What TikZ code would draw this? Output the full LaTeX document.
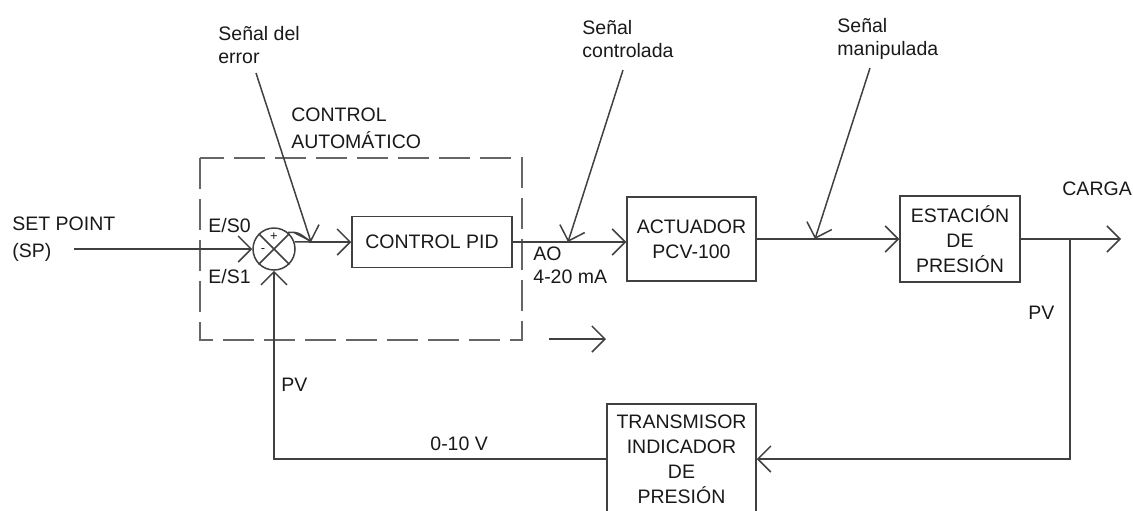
\documentclass[tikz,border=0pt]{standalone}
\usepackage{fontspec}
\setmainfont{Liberation Sans}
\usetikzlibrary{arrows.meta}
\begin{document}
\begin{tikzpicture}[x=0.5pt,y=-0.5pt,
  every node/.style={font=\fontsize{9.75}{12.5}\selectfont, text=black!90},
  box/.style={draw=black!75, line width=0.75pt, inner sep=0pt, align=center},
  ln/.style={draw=black!75, line width=0.75pt},
  arr/.style={ln, -{Straight Barb[length=6.5pt,width=13pt,line width=0.75pt]}},
  lbl/.style={anchor=west, align=left, inner sep=0pt},
  sig/.style={lbl, font=\fontsize{9.75}{11.5}\selectfont},
  dbox/.style={draw=black!60, line width=0.8pt, dash pattern=on 15.5pt off 5pt},
]
\useasboundingbox (0,0) rectangle (1133,510);
\begin{scope}
\clip (0,0) rectangle (1133,510);
% blocks
\node[box, minimum width=80pt, minimum height=25.5pt] (pid) at (432,242) {CONTROL PID};
\node[box, minimum width=64.5pt, minimum height=42pt] (act) at (691.5,239) {ACTUADOR\\PCV-100};
\node[box, minimum width=60pt, minimum height=43pt] (est) at (960,239) {ESTACIÓN\\DE\\PRESIÓN};
\node[box, minimum width=74.5pt, minimum height=55pt] (tra) at (681.5,459) {TRANSMISOR\\INDICADOR\\DE\\PRESIÓN};
% summing junction
\node[circle, draw=black!75, line width=0.75pt, minimum size=21pt, inner sep=0pt] (sum) at (274,249) {};
\draw[ln] (sum.45) -- (sum.225) (sum.135) -- (sum.-45);
\node[font=\fontsize{6.5}{7}\selectfont, inner sep=0pt] (plus) at (274,237) {+};
\node[font=\fontsize{6.5}{7}\selectfont, inner sep=0pt] (minus) at (263,251) {-};
% dashed box
\draw[dbox] (200,158) rectangle (522,340);
% coordinates
\coordinate (sp) at (74,249);
\coordinate (ej) at (311,242);
\coordinate (es) at (256,73);
\coordinate (sc) at (623,70);
\coordinate (ec) at (568,242);
\coordinate (sm) at (870,68);
\coordinate (em) at (815,239);
\coordinate (bp) at (1070,239);
\coordinate (carga) at (1121,239);
\coordinate (la1) at (549,339);
\coordinate (la2) at (606,339);
% connectors
\draw[arr] (sp) -- (sum.west);
\draw[ln] (sum.19) -- (ej);
\draw[ln] (sum.50) .. controls (298,232) .. (ej);
\draw[arr] (es) -- (ej);
\draw[arr] (ej) -- (ej -| pid.west);
\draw[arr] (pid.east) -- (pid.east -| act.west);
\draw[arr] (sc) -- (ec);
\draw[arr] (act.east) -- (est.west);
\draw[arr] (sm) -- (em);
\draw[arr] (est.east) -- (carga);
\draw[arr] (bp) |- (tra.east);
\draw[arr] (tra.west) -| (sum.south);
\draw[arr] (la1) -- (la2);
% labels
\node[sig] (lerr) at (218,45) {Señal del\\error};
\node[sig] (lctl) at (582,39) {Señal\\controlada};
\node[sig] (lman) at (837,39) {Señal\\manipulada};
\node[lbl, font=\fontsize{9.75}{13.5}\selectfont] (lauto) at (291,128.5) {CONTROL\\AUTOMÁTICO};
\node[lbl, font=\fontsize{9.75}{13.5}\selectfont] (lsp) at (12,239.5) {SET POINT\\(SP)};
\node[lbl] (les0) at (208,226) {E/S0};
\node[lbl] (les1) at (208,277) {E/S1};
\node[lbl, font=\fontsize{9.75}{11.5}\selectfont] (lao) at (533,265) {AO\\4-20 mA};
\node[lbl] (lcarga) at (1062,189) {CARGA};
\node[lbl] (lpvr) at (1028,313) {PV};
\node[lbl] (lpvl) at (281,385) {PV};
\node[lbl] (lv) at (430,444) {0-10 V};
\end{scope}
\end{tikzpicture}
\end{document}
